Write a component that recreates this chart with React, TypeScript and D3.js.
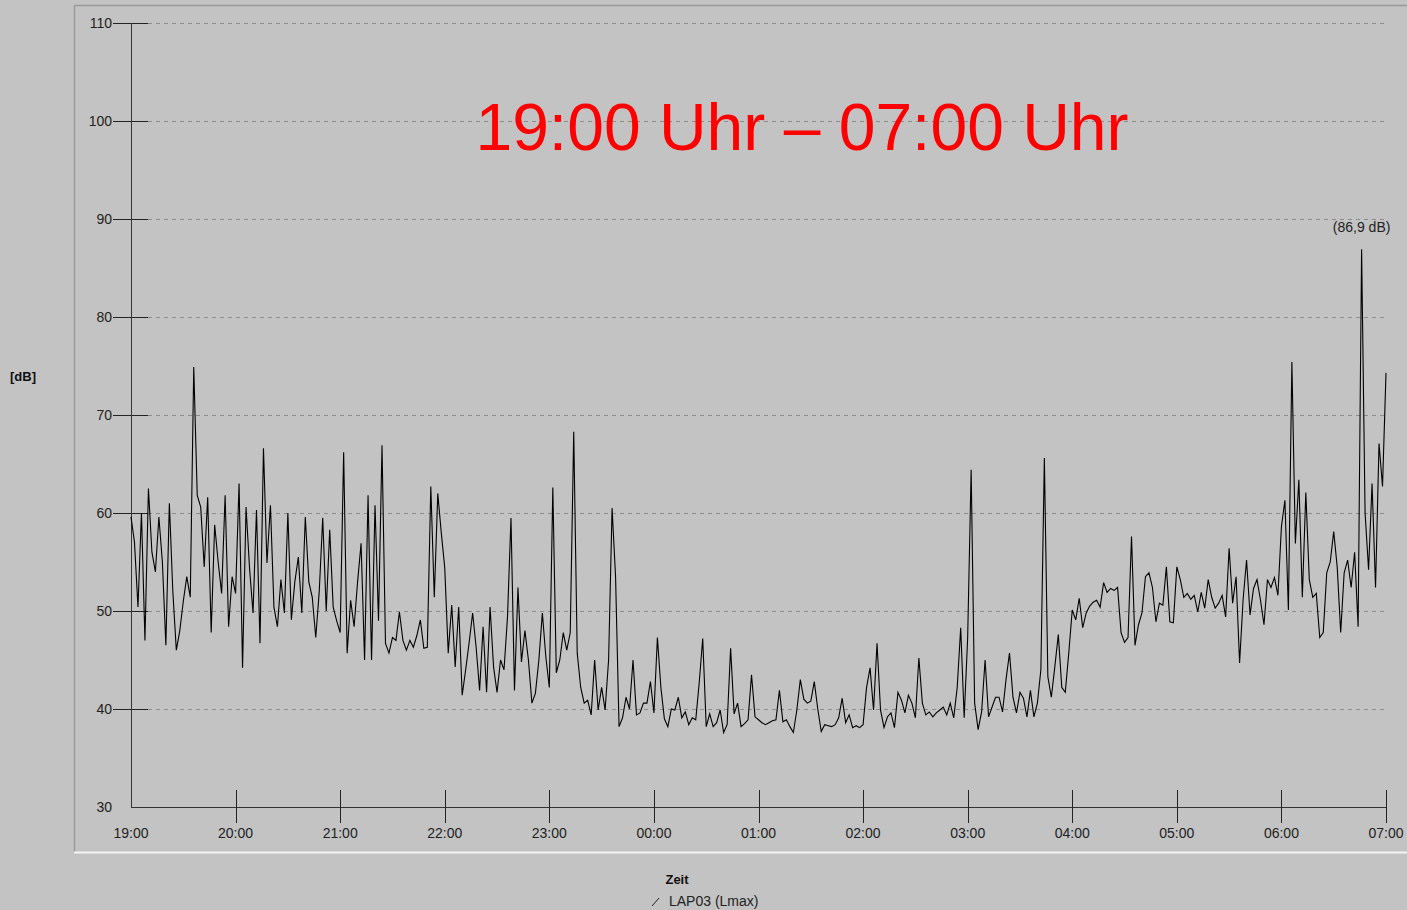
import React from "react";
import * as d3 from "d3";

// Lmax values, one every 2 minutes (dB)
const h19 = [59.6, 57, 50.4, 60, 47, 62.5, 56, 54, 59.6, 55, 46.5, 61, 52, 46, 48, 51, 53.5, 51.4, 74.9, 61.8, 60.6, 54.5, 61.6, 47.8, 58.8, 55, 51.8, 61.8, 48.4, 53.5];
const h20 = [51.8, 63, 44.2, 60.6, 54.4, 49.8, 60.3, 46.7, 66.6, 54.9, 60.8, 50.4, 48.4, 53.2, 49.8, 60, 49.1, 53, 55.5, 49.8, 59.6, 53, 51.4, 47.3, 52, 59.5, 50, 58.3, 50.4, 49];
const h21 = [47.8, 66.2, 45.7, 51.1, 48.4, 53, 56.9, 45, 61.8, 45, 60.8, 49, 66.9, 46.7, 45.7, 47.3, 47, 49.9, 47, 46, 47, 46.3, 47.5, 49.1, 46.2, 46.3, 62.7, 51.4, 62, 58];
const h22 = [54.4, 45.7, 50.6, 44.3, 50.4, 41.4, 44, 46.8, 49.8, 46.3, 41.9, 48.4, 41.7, 50.4, 44.3, 41.7, 45, 44, 49.4, 59.5, 41.9, 52.4, 44.8, 48, 45, 40.6, 41.6, 45, 49.8, 45.3];
const h23 = [42.2, 62.6, 43.7, 45, 47.8, 46, 47.8, 68.3, 45.7, 42.2, 40.6, 40.9, 39.4, 45, 39.9, 42.2, 39.9, 45, 60.5, 53.5, 38.2, 39.1, 41.2, 40, 45, 39.4, 39.6, 40.6, 40.6, 42.8];
const h00 = [39.6, 47.3, 42.2, 39, 38.2, 40, 39.9, 41.2, 39.1, 39.7, 38.4, 39.1, 38.9, 42.7, 47.2, 38.2, 39.5, 38.2, 38.6, 39.9, 37.6, 38.4, 46.2, 39.5, 40.6, 38.2, 38.5, 38.9, 43.5, 39.2];
const h01 = [38.9, 38.6, 38.4, 38.6, 38.8, 38.9, 41.9, 38.7, 38.9, 38.2, 37.6, 39.9, 43, 41, 40.6, 40.8, 42.8, 40, 37.7, 38.4, 38.3, 38.2, 38.4, 39.1, 41.1, 38.6, 39.4, 38.1, 38.3, 38.1];
const h02 = [38.4, 42.2, 44.2, 39.9, 46.7, 39.9, 38.1, 39.2, 39.6, 38.1, 41.7, 40.9, 39.6, 41.4, 40.6, 39.1, 45.2, 40.6, 39.4, 39.7, 39.2, 39.6, 39.9, 40.2, 39.4, 40.6, 39.1, 42.2, 48.3, 39.1];
const h03 = [47.3, 64.4, 40.6, 37.9, 39.7, 45, 39.2, 40.2, 41.2, 41.2, 39.7, 43, 45.7, 41.2, 39.6, 41.7, 41.1, 39.2, 41.9, 39.2, 40.6, 44, 65.6, 43.3, 41.2, 44.3, 47.6, 42.2, 41.7, 45.7];
const h04 = [50.1, 49.1, 51.3, 48.3, 49.8, 50.5, 50.9, 51.1, 50.4, 52.9, 51.9, 52.3, 52.1, 52.4, 47.8, 46.8, 47.3, 57.6, 46.5, 48.6, 49.8, 53.5, 53.9, 52.4, 48.9, 50.8, 50.6, 54.5, 48.9, 48.8];
const h05 = [54.5, 53.2, 51.4, 51.8, 51.2, 51.6, 49.9, 51.9, 50.3, 53.2, 51.4, 50.3, 50.8, 51.6, 49.4, 56.4, 50.8, 53.5, 44.7, 51.1, 55.2, 49.6, 52.3, 53.2, 51.1, 48.6, 53.2, 52.4, 53.4, 51.6];
const h06 = [58.6, 61.3, 50.1, 75.4, 56.9, 63.4, 51.4, 62.1, 53.2, 51.4, 51.8, 47.3, 47.8, 53.9, 55, 58.1, 54.5, 47.8, 53.9, 55.2, 52.4, 56, 48.4, 86.9, 60, 54.2, 63, 52.4, 67.1, 62.7];
const h07 = [74.3];

const yTicks = [30, 40, 50, 60, 70, 80, 90, 100, 110];
const xTickLabels = ["19:00", "20:00", "21:00", "22:00", "23:00", "00:00", "01:00", "02:00", "03:00", "04:00", "05:00", "06:00", "07:00"];
const title = "19:00 Uhr \u2013 07:00 Uhr";
const yLabel = "[dB]";
const xLabel = "Zeit";
const seriesName = "LAP03 (Lmax)";
const stepMinutes = 2;

const FONT = "'Liberation Sans', Arial, sans-serif";

export default function App() {
  const W = 1407, H = 910;
  const start = new Date(2020, 0, 1, 19, 0, 0);
  const end = new Date(2020, 0, 2, 7, 0, 0);
  const values = [...h19, ...h20, ...h21, ...h22, ...h23, ...h00, ...h01, ...h02, ...h03, ...h04, ...h05, ...h06, ...h07];
  const data = values.map((v, i) => ({ t: d3.timeMinute.offset(start, i * stepMinutes), v }));

  const x = d3.scaleTime().domain([start, end]).range([131, 1386]);
  const y = d3.scaleLinear().domain([30, 110]).range([807, 23]);
  const hours = d3.timeHour.range(start, d3.timeMinute.offset(end, 1));

  const line = d3.line<{ t: Date; v: number }>().x(d => x(d.t)).y(d => y(d.v));
  const maxD = data.reduce((a, b) => (b.v > a.v ? b : a), data[0]);
  const maxLabel = "(" + d3.format(".1f")(maxD.v).replace(".", ",") + " dB)";

  const x0 = x(start), yb = y(30);

  return (
    <svg width={W} height={H} style={{ position: "absolute", left: 0, top: 0, background: "#c3c3c3" }} fontFamily={FONT}>
      <rect x={0} y={0} width={W} height={H} fill="#c3c3c3" />
      {/* panel frame */}
      <path d={`M74.5,852 V5.5 H${W}`} fill="none" stroke="#9a9a9a" strokeWidth={1.5} />
      <line x1={74} x2={W} y1={852.5} y2={852.5} stroke="#f4f4f4" strokeWidth={2} />

      {/* grid */}
      {yTicks.filter(v => v > 30).map(v => (
        <line key={"g" + v} x1={x0 + 17} x2={x(end)} y1={Math.round(y(v)) + 0.5} y2={Math.round(y(v)) + 0.5}
          stroke="#8c8c8c" strokeDasharray="4,4" shapeRendering="crispEdges" />
      ))}
      {/* y ticks */}
      {yTicks.filter(v => v > 30).map(v => (
        <line key={"t" + v} x1={x0 - 18} x2={x0 + 17} y1={Math.round(y(v)) + 0.5} y2={Math.round(y(v)) + 0.5}
          stroke="#222" shapeRendering="crispEdges" />
      ))}
      {yTicks.map(v => (
        <text key={"l" + v} x={x0 - 19} y={y(v) + 5} textAnchor="end" fontSize={14} fill="#222">{v}</text>
      ))}
      {/* axes */}
      <line x1={x0 + 0.5} x2={x0 + 0.5} y1={y(110)} y2={yb} stroke="#333" shapeRendering="crispEdges" />
      <line x1={x0} x2={x(end)} y1={yb + 0.5} y2={yb + 0.5} stroke="#333" shapeRendering="crispEdges" />
      {hours.map((h, i) => (
        <g key={"x" + i}>
          {i > 0 && (
            <line x1={Math.round(x(h)) + 0.5} x2={Math.round(x(h)) + 0.5} y1={yb - 17} y2={yb + 16} stroke="#222" shapeRendering="crispEdges" />
          )}
          <text x={x(h)} y={838} textAnchor="middle" fontSize={14} fill="#222">{xTickLabels[i]}</text>
        </g>
      ))}

      {/* data */}
      <path d={line(data) || ""} fill="none" stroke="#000" strokeWidth={1.1} strokeLinejoin="miter" />

      {/* peak label */}
      <text x={x(maxD.t)} y={y(maxD.v) - 17} textAnchor="middle" fontSize={14} fill="#222">{maxLabel}</text>

      {/* title */}
      <text x={802} y={150} textAnchor="middle" fontSize={66} fill="#ff0000">{title}</text>

      {/* axis titles */}
      <text x={10} y={381} fontSize={13} fontWeight="bold" fill="#111">{yLabel}</text>
      <text x={677} y={884} textAnchor="middle" fontSize={13} fontWeight="bold" fill="#111">{xLabel}</text>

      {/* legend */}
      <line x1={652} x2={659} y1={906} y2={898} stroke="#222" strokeWidth={1} />
      <text x={669} y={906} fontSize={14} fill="#222">{seriesName}</text>
    </svg>
  );
}
